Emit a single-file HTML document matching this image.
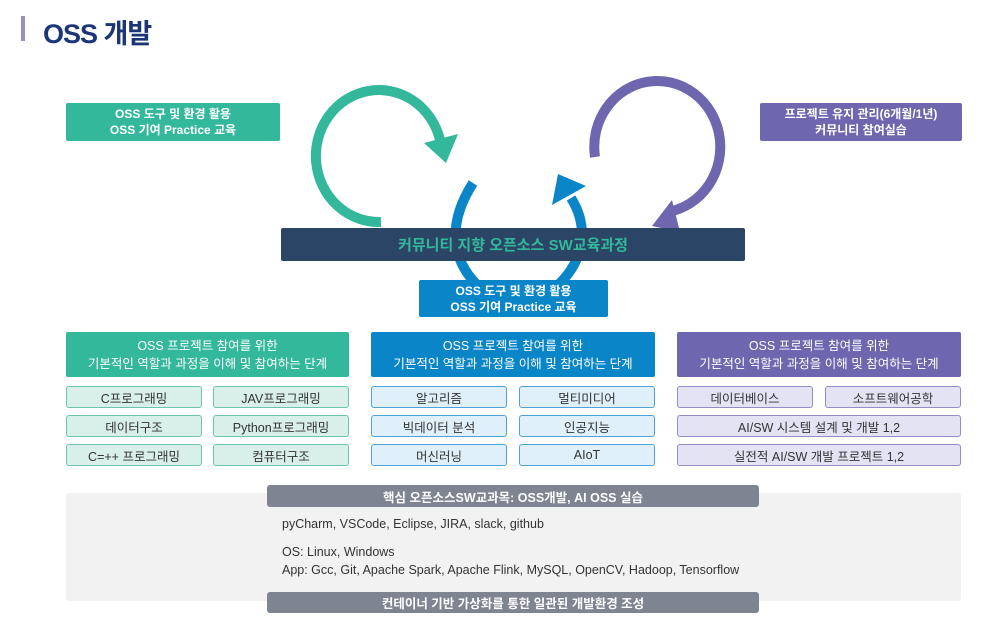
<!DOCTYPE html>
<html><head><meta charset="utf-8"><style>
*{margin:0;padding:0;box-sizing:border-box}
body{width:1000px;height:634px;background:#fff;position:relative;overflow:hidden;font-family:"Liberation Sans","Noto Sans CJK KR",sans-serif}
.a{position:absolute;display:flex;align-items:center;justify-content:center;text-align:center}
.box{color:#fff;font-weight:bold;font-size:12px;line-height:16px;border-radius:2px}
.hd{color:#fff;font-size:12.5px;line-height:18px;border-radius:2px}
.c{font-size:12.5px;color:#333;border-radius:3px;border:1.5px solid}
.g{background:#d9efe9;border-color:#6cc4ae}
.b{background:#e0f0fa;border-color:#4ea2d8}
.p{background:#e4e3f3;border-color:#928dc6}
.bar{background:#7e8591;color:#fff;font-weight:bold;font-size:12.5px;border-radius:3px}
.t{position:absolute;left:282px;font-size:12.5px;color:#333}
</style></head><body>
<div style="position:absolute;left:21px;top:16px;width:4px;height:25px;background:#9b8ec0"></div>
<div style="position:absolute;left:43px;top:12px;font-size:27px;font-weight:bold;color:#1c3579;letter-spacing:-1px">OSS 개발</div>

<svg width="1000" height="634" style="position:absolute;left:0;top:0">
<path d="M381 222 A63 66 0 1 1 440 140" fill="none" stroke="#33b89c" stroke-width="10"/>
<polygon points="446,163 424,143 458,134" fill="#33b89c"/>
<path d="M595 157 A63 66 0 1 1 668 212" fill="none" stroke="#6e66ae" stroke-width="10"/>
<polygon points="652,226 672,200 680,232" fill="#6e66ae"/>
<path d="M473 183 C448 222 448 262 485 292 L550 292 C588 262 588 225 571 198" fill="none" stroke="#0a86c8" stroke-width="10"/>
<polygon points="558,174 552,205 586,186" fill="#0a86c8"/>
</svg>

<div class="a box" style="left:66px;top:103px;width:214px;height:38px;background:#33b89c">OSS 도구 및 환경 활용<br>OSS 기여 Practice 교육</div>
<div class="a box" style="left:760px;top:103px;width:202px;height:38px;background:#6e66ae">프로젝트 유지 관리(6개월/1년)<br>커뮤니티 참여실습</div>
<div class="a" style="left:281px;top:228px;width:464px;height:33px;background:#2b4566;color:#33b89c;font-weight:bold;font-size:15px;border-radius:2px">커뮤니티 지향 오픈소스 SW교육과정</div>
<div class="a box" style="left:419px;top:280px;width:189px;height:37px;background:#0a86c8">OSS 도구 및 환경 활용<br>OSS 기여 Practice 교육</div>

<div class="a hd" style="left:66px;top:332px;width:283px;height:45px;background:#33b89c">OSS 프로젝트 참여를 위한<br>기본적인 역할과 과정을 이해 및 참여하는 단계</div>
<div class="a c g" style="left:66px;top:386px;width:136px;height:22px">C프로그래밍</div>
<div class="a c g" style="left:213px;top:386px;width:136px;height:22px">JAV프로그래밍</div>
<div class="a c g" style="left:66px;top:415px;width:136px;height:22px">데이터구조</div>
<div class="a c g" style="left:213px;top:415px;width:136px;height:22px">Python프로그래밍</div>
<div class="a c g" style="left:66px;top:444px;width:136px;height:22px">C=++ 프로그래밍</div>
<div class="a c g" style="left:213px;top:444px;width:136px;height:22px">컴퓨터구조</div>

<div class="a hd" style="left:371px;top:332px;width:284px;height:45px;background:#0a86c8">OSS 프로젝트 참여를 위한<br>기본적인 역할과 과정을 이해 및 참여하는 단계</div>
<div class="a c b" style="left:371px;top:386px;width:136px;height:22px">알고리즘</div>
<div class="a c b" style="left:519px;top:386px;width:136px;height:22px">멀티미디어</div>
<div class="a c b" style="left:371px;top:415px;width:136px;height:22px">빅데이터 분석</div>
<div class="a c b" style="left:519px;top:415px;width:136px;height:22px">인공지능</div>
<div class="a c b" style="left:371px;top:444px;width:136px;height:22px">머신러닝</div>
<div class="a c b" style="left:519px;top:444px;width:136px;height:22px">AIoT</div>

<div class="a hd" style="left:677px;top:332px;width:284px;height:45px;background:#6e66ae">OSS 프로젝트 참여를 위한<br>기본적인 역할과 과정을 이해 및 참여하는 단계</div>
<div class="a c p" style="left:677px;top:386px;width:136px;height:22px">데이터베이스</div>
<div class="a c p" style="left:825px;top:386px;width:136px;height:22px">소프트웨어공학</div>
<div class="a c p" style="left:677px;top:415px;width:284px;height:22px">AI/SW 시스템 설계 및 개발 1,2</div>
<div class="a c p" style="left:677px;top:444px;width:284px;height:22px">실전적 AI/SW 개발 프로젝트 1,2</div>

<div style="position:absolute;left:66px;top:493px;width:895px;height:108px;background:#f2f2f2;border-radius:3px"></div>
<div class="a bar" style="left:267px;top:485px;width:492px;height:22px">핵심 오픈소스SW교과목: OSS개발, AI OSS 실습</div>
<div class="t" style="top:517px">pyCharm, VSCode, Eclipse, JIRA, slack, github</div>
<div class="t" style="top:545px">OS: Linux, Windows</div>
<div class="t" style="top:563px">App: Gcc, Git, Apache Spark, Apache Flink, MySQL, OpenCV, Hadoop, Tensorflow</div>
<div class="a bar" style="left:267px;top:592px;width:492px;height:21px">컨테이너 기반 가상화를 통한 일관된 개발환경 조성</div>
</body></html>
